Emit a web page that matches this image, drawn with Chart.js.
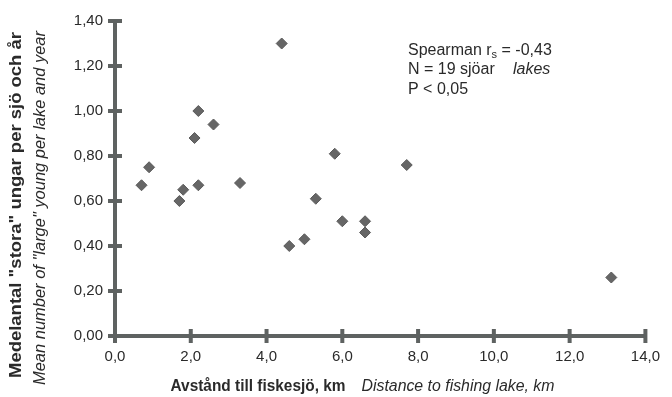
<!DOCTYPE html>
<html>
<head>
<meta charset="utf-8">
<script src="https://cdn.jsdelivr.net/npm/chart.js@4"></script>
<style>
  html, body { margin: 0; padding: 0; background: #fff; }
  #wrap { width: 672px; height: 397px; }
</style>
</head>
<body>
<div id="wrap"><canvas id="c" width="672" height="397"></canvas></div>
<script>
// distance to fishing lake (km) and mean number of large young per lake and year
const distKm = [4.4, 2.2, 2.6, 2.1, 5.8, 0.9, 0.7, 1.8, 2.2, 3.3, 1.7, 5.3, 7.7, 4.6, 5.0, 6.0, 6.6, 6.6, 13.1];
const youngPerLake = [1.30, 1.00, 0.94, 0.88, 0.81, 0.75, 0.67, 0.65, 0.67, 0.68, 0.60, 0.61, 0.76, 0.40, 0.43, 0.51, 0.51, 0.46, 0.26];
const xTicks = [0, 2, 4, 6, 8, 10, 12, 14];
const yTicks = [0, 0.2, 0.4, 0.6, 0.8, 1.0, 1.2, 1.4];

const axisColor = '#5e6261';
const textColor = '#2a2a2a';
const fam = '"Liberation Sans", Arial, sans-serif';

const points = distKm.map((x, i) => ({ x: x, y: youngPerLake[i] }));

// text squeezed/stretched along its baseline to a given length, centred at (cx, cy)
function fitText(ctx, str, font, cx, cy, len, angle) {
  ctx.save();
  ctx.font = font;
  const w = ctx.measureText(str).width;
  ctx.translate(cx, cy);
  ctx.rotate(angle);
  ctx.scale(len / w, 1);
  ctx.textAlign = 'center';
  ctx.textBaseline = 'middle';
  ctx.fillText(str, 0, 0);
  ctx.restore();
}

// draws the thick axis lines with crossing tick bars, titles and the stats note
const decor = {
  id: 'decor',
  afterDraw(chart) {
    const ctx = chart.ctx;
    const xs = chart.scales.x, ys = chart.scales.y;
    const x0 = xs.getPixelForValue(0), x1 = xs.getPixelForValue(14);
    const y0 = ys.getPixelForValue(0), y1 = ys.getPixelForValue(1.4);
    ctx.save();
    ctx.strokeStyle = axisColor;
    ctx.lineWidth = 4;
    ctx.lineCap = 'butt';
    ctx.beginPath();
    ctx.moveTo(x0, y0); ctx.lineTo(x0, y1);
    ctx.moveTo(x0 - 2, y0); ctx.lineTo(x1, y0);
    ctx.stroke();
    ctx.beginPath();
    yTicks.forEach(v => {
      const py = ys.getPixelForValue(v);
      ctx.moveTo(x0 - 7, py); ctx.lineTo(x0 + 7, py);
    });
    xTicks.forEach(v => {
      const px = xs.getPixelForValue(v);
      ctx.moveTo(px, y0 - 7); ctx.lineTo(px, y0 + 7);
    });
    ctx.stroke();

    ctx.fillStyle = textColor;
    // y titles
    fitText(ctx, 'Medelantal "stora" ungar per sjö och år', 'bold 17px ' + fam, 16, 205, 346, -Math.PI / 2);
    fitText(ctx, 'Mean number of "large" young per lake and year', 'italic 16px ' + fam, 41, 208, 354, -Math.PI / 2);
    // x titles
    fitText(ctx, 'Avstånd till fiskesjö, km', 'bold 16px ' + fam, 258, 387, 175, 0);
    fitText(ctx, 'Distance to fishing lake, km', 'italic 16px ' + fam, 458, 387, 193, 0);

    // stats note
    ctx.textAlign = 'left';
    ctx.textBaseline = 'middle';
    ctx.font = '16px ' + fam;
    let tx = 408;
    ctx.fillText('Spearman r', tx, 51);
    tx += ctx.measureText('Spearman r').width;
    ctx.font = '11px ' + fam;
    ctx.fillText('s', tx, 55);
    tx += ctx.measureText('s').width;
    ctx.font = '16px ' + fam;
    ctx.fillText(' = -0,43', tx, 51);
    ctx.fillText('N = 19 sjöar', 408, 70);
    ctx.fillText('P < 0,05', 408, 90);
    ctx.font = 'italic 16px ' + fam;
    ctx.fillText('lakes', 513, 70);
    ctx.restore();
  }
};

new Chart(document.getElementById('c'), {
  type: 'scatter',
  data: {
    datasets: [{
      data: points,
      pointStyle: 'rectRot',
      pointRadius: 5.5,
      backgroundColor: '#666',
      borderColor: '#5a5a5a',
      borderWidth: 1
    }]
  },
  options: {
    responsive: false,
    animation: false,
    layout: { padding: { left: 0, top: 13, right: 16, bottom: 0 } },
    plugins: { legend: { display: false }, tooltip: { enabled: false } },
    scales: {
      x: {
        type: 'linear',
        min: 0, max: 14,
        afterFit: s => { s.height = 61; },
        afterBuildTicks: s => { s.ticks = xTicks.map(v => ({ value: v })); },
        grid: { display: false, drawTicks: false },
        border: { display: false },
        ticks: {
          padding: 12,
          color: textColor,
          font: { family: fam, size: 15 },
          callback: v => v.toFixed(1).replace('.', ',')
        }
      },
      y: {
        type: 'linear',
        min: 0, max: 1.4,
        afterFit: s => { s.width = 115; },
        afterBuildTicks: s => { s.ticks = yTicks.map(v => ({ value: v })); },
        grid: { display: false, drawTicks: false },
        border: { display: false },
        ticks: {
          padding: 12,
          color: textColor,
          font: { family: fam, size: 15 },
          callback: v => v.toFixed(2).replace('.', ',')
        }
      }
    }
  },
  plugins: [decor]
});
</script>
</body>
</html>
